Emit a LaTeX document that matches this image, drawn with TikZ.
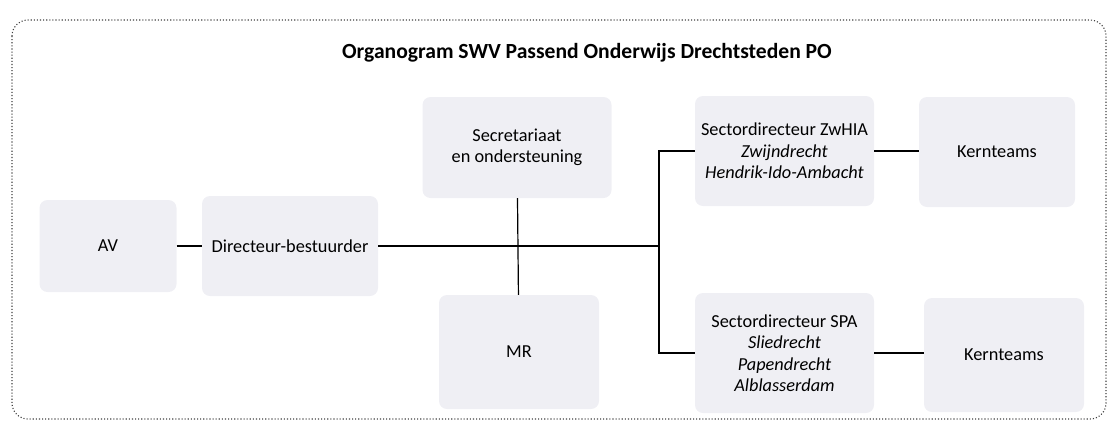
\documentclass[tikz,border=0pt]{standalone}
\usepackage{fontspec}
\setmainfont{Carlito}
\usetikzlibrary{calc}

\definecolor{boxgray}{RGB}{239,239,244}
\tikzset{
  unit/.style={fill=boxgray,rounded corners=8pt,
    align=center,inner sep=0pt,font=\fontsize{18.3}{21.5}\selectfont},
  link/.style={line width=1.2pt,black},
  title/.style={font=\fontsize{21.6}{25}\selectfont\bfseries}
}

\begin{document}
\begin{tikzpicture}[x=1pt,y=-1pt]
            \useasboundingbox (0,0) rectangle (1109,429);
            \draw[dotted,line width=1.1pt,black!75,rounded corners=16pt] (12,20) rectangle (1106,419);
            \node[title] (head) at (587,53) {Organogram SWV Passend Onderwijs Drechtsteden PO};

            \node[unit,minimum width=137pt,minimum height=92pt] (av) at (108,246) {AV};
            \node[unit,minimum width=176pt,minimum height=100pt] (dir) at (290,246) {Directeur-bestuurder};
            \node[unit,minimum width=189pt,minimum height=101pt] (sec) at (517,147.5) {Secretariaat\\en ondersteuning};
            \node[unit,minimum width=160pt,minimum height=114pt] (mr) at (519,352) {MR};

            \node[unit,minimum width=179pt,minimum height=110pt] (zw) at (784.5,151) {Sectordirecteur ZwHIA\\\textit{Zwijndrecht}\\\textit{Hendrik-Ido-Ambacht}};
            \node[unit,minimum width=179pt,minimum height=120pt] (spa) at (784.5,353) {Sectordirecteur SPA\\\textit{Sliedrecht}\\\textit{Papendrecht}\\\textit{Alblasserdam}};
            \node[unit,minimum width=156pt,minimum height=110pt] (kern1) at (997,152) {Kernteams};
            \node[unit,minimum width=160pt,minimum height=114pt] (kern2) at (1004,355) {Kernteams};

            \coordinate (fork) at (659,248);

            \draw[link] (av) -- (dir);
            \draw[link] (dir.east) -- (dir.east -| fork);
            \draw[link] (sec) -- (mr);
            \draw[link] (zw.west) -| (fork) |- (spa.west);
            \draw[link] (zw.east) -- (zw.east -| kern1.west);
            \draw[link] (spa.east) -- (spa.east -| kern2.west);
          \end{tikzpicture}
\end{document}
